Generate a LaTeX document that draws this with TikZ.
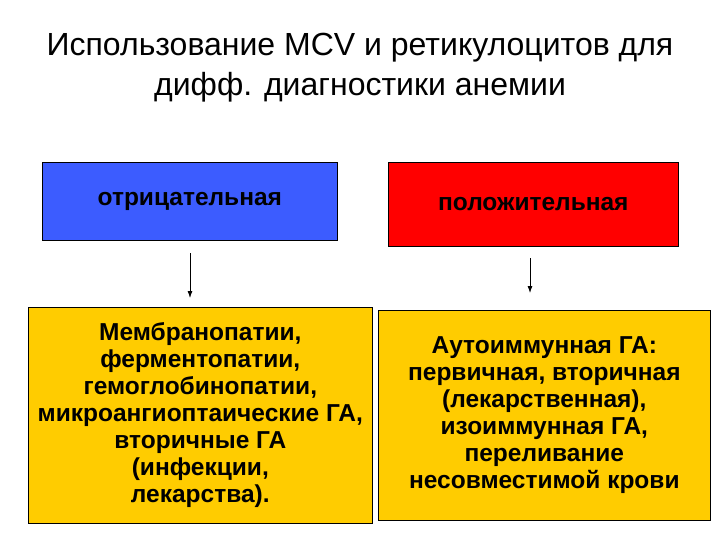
\documentclass[tikz,border=0pt]{standalone}
\usepackage{fontspec}
\usetikzlibrary{arrows.meta}
\setmainfont{Liberation Sans}
\definecolor{yel}{HTML}{FFCC00}
\definecolor{blu}{HTML}{3C5CFF}
\begin{document}
\begin{tikzpicture}[x=1pt,y=-1pt,
 box/.style={draw=black,line width=0.6pt,anchor=north west,inner sep=0pt},
 lbl/.style={align=center,font=\fontsize{24.5}{27}\selectfont\bfseries},
 arr/.style={-{Latex[length=7pt,width=5pt]},line width=0.8pt}]
\useasboundingbox (0,0) rectangle (720,540);
\node[align=center,font=\fontsize{32}{40}\selectfont] (t) at (360,68) {Использование MCV и ретикулоцитов для\\дифф. диагностики анемии};
\node[box,fill=blu,minimum width=295pt,minimum height=78pt] (b1) at (42,162) {};
\node[lbl] at (b1.center) {отрицательная};
\node[box,fill=red,minimum width=290pt,minimum height=84pt] (b2) at (388,162) {};
\node[lbl] at (b2.center) {положительная};
\node[box,fill=yel,minimum width=344pt,minimum height=216pt] (y1) at (28,307) {};
\node[lbl] at (y1.center) {Мембранопатии,\\ферментопатии,\\гемоглобинопатии,\\микроангиоптаические ГА,\\вторичные ГА\\(инфекции,\\лекарства).};
\node[box,fill=yel,minimum width=332pt,minimum height=210pt] (y2) at (378,310) {};
\node[lbl] at (y2.center) {Аутоиммунная ГА:\\первичная, вторичная\\(лекарственная),\\изоиммунная ГА,\\переливание\\несовместимой крови};
\coordinate (a1) at (190,253); \coordinate (a2) at (190,298);
\coordinate (c1) at (530,258); \coordinate (c2) at (530,293);
\draw[arr] (a1) -- (a2);
\draw[arr] (c1) -- (c2);
\end{tikzpicture}
\end{document}
